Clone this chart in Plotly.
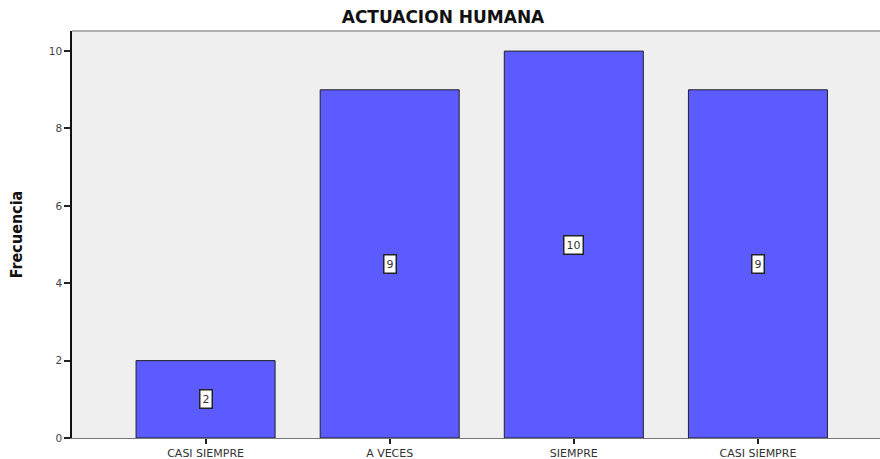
import plotly.graph_objects as go

# Frequency of responses for "ACTUACION HUMANA"
categories = ["CASI SIEMPRE", "A VECES", "SIEMPRE", "CASI SIEMPRE"]
counts = [2, 9, 10, 9]
y_ticks = [0, 2, 4, 6, 8, 10]

positions = list(range(len(categories)))

fig = go.Figure()
fig.add_trace(go.Bar(
    x=positions,
    y=counts,
    width=0.755,
    marker=dict(color="#5b5bff", line=dict(color="#222222", width=1)),
    hoverinfo="skip",
))

# Value labels in white boxes at the middle of each bar
for xpos, v in zip(positions, counts):
    fig.add_annotation(
        x=xpos, y=v / 2, text=str(v), showarrow=False,
        font=dict(family="DejaVu Sans, Arial", size=11, color="#333333"),
        bgcolor="white", bordercolor="#222222", borderwidth=1.5, borderpad=2,
    )

fig.update_layout(
    width=880, height=459,
    margin=dict(l=72, r=0, t=31, b=21),
    paper_bgcolor="white",
    plot_bgcolor="#efefef",
    showlegend=False,
    title=dict(
        text="<b>ACTUACION HUMANA</b>",
        x=443 / 880, xanchor="center", xref="container",
        y=1 - 17 / 459, yanchor="middle", yref="container",
        font=dict(family="DejaVu Sans, Arial", size=17, color="#111111"),
    ),
    xaxis=dict(
        range=[-0.7255, 3.663],
        tickvals=positions, ticktext=categories,
        ticks="outside", ticklen=5, tickcolor="#222222", tickwidth=1.5,
        tickfont=dict(family="DejaVu Sans, Arial", size=11, color="#333333"),
        showgrid=False, zeroline=False,
        showline=True, linecolor="#777777", linewidth=1,
        fixedrange=True,
    ),
    yaxis=dict(
        range=[0, 10.52],
        tickvals=y_ticks,
        ticks="outside", ticklen=6, tickcolor="#222222", tickwidth=1.5,
        tickfont=dict(family="DejaVu Sans, Arial", size=10.5, color="#444444"),
        showgrid=False, zeroline=False,
        showline=True, linecolor="#111111", linewidth=1.5,
        title=dict(
            text="<b>Frecuencia</b>", standoff=22,
            font=dict(family="Liberation Sans Narrow, DejaVu Sans Condensed, Arial", size=16, color="#111111"),
        ),
        fixedrange=True,
    ),
    shapes=[
        dict(type="line", xref="paper", yref="paper", x0=0, x1=1, y0=1, y1=1,
             line=dict(color="#999999", width=1.5)),
    ],
)

fig.write_html("out.html")
